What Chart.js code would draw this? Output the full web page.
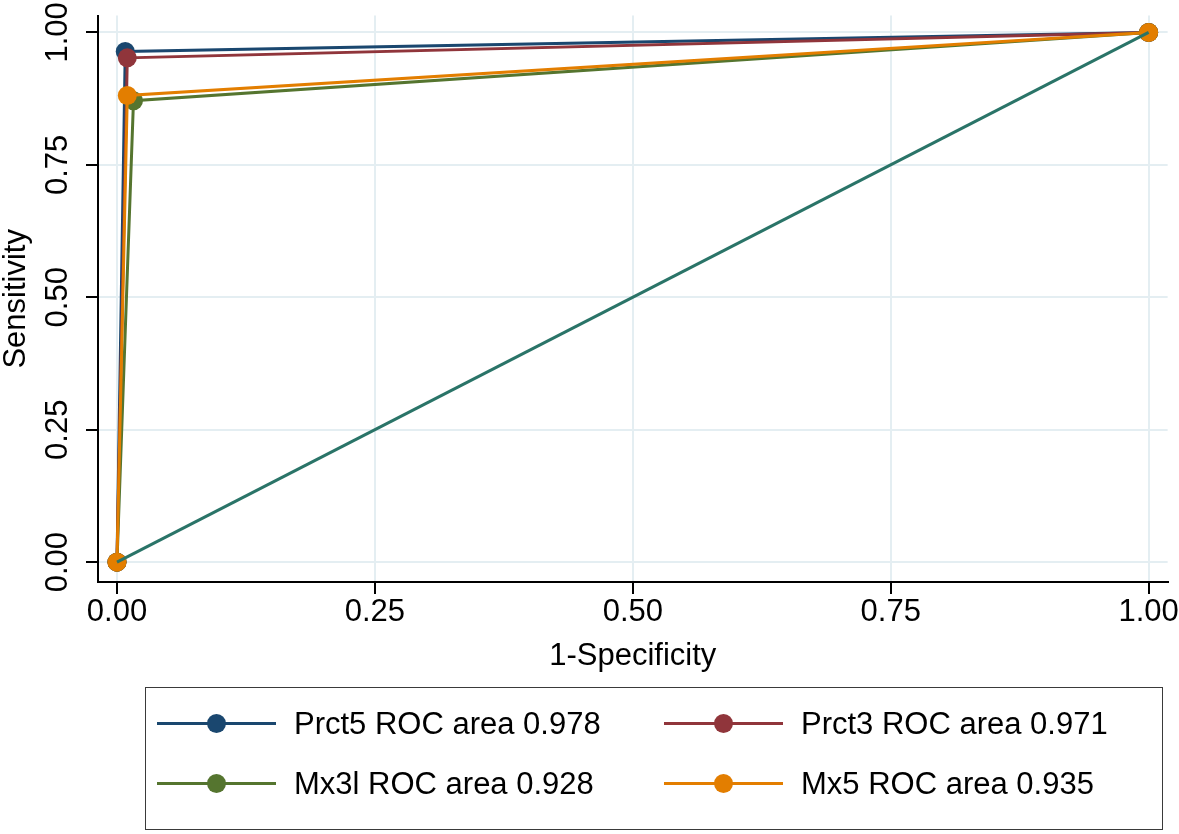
<!DOCTYPE html>
<html><head><meta charset="utf-8">
<script src="https://cdn.jsdelivr.net/npm/chart.js@4/dist/chart.umd.min.js"></script>
<style>
html,body{margin:0;padding:0;background:#fff;}
#wrap{position:relative;width:1179px;height:834px;overflow:hidden;}
#c{position:absolute;left:0;top:0;}
#legend{position:absolute;left:145px;top:687px;width:1016px;height:141px;border:1.5px solid #3a3a3a;font-family:"Liberation Sans",Arial,sans-serif;font-size:31px;color:#000;}
.item{position:absolute;height:30px;width:490px;}
.sw{position:absolute;left:0;top:13px;width:119px;height:3px;}
.dot{position:absolute;left:50px;top:5px;width:19px;height:19px;border-radius:50%;}
.lab{position:absolute;left:137px;top:-3px;white-space:nowrap;line-height:36px;}
</style>
</head><body>
<div id="wrap">
<canvas id="c" width="1179" height="834"></canvas>
<div id="legend"></div>
</div>
<script>
// ---- data ----
const seriesNames = ['Prct5', 'Prct3', 'Mx3l', 'Mx5'];
const rocAreas = [0.978, 0.971, 0.928, 0.935];
const prct5X = [0, 0.008, 1];
const prct5Y = [0, 0.964, 1];
const prct3X = [0, 0.010, 1];
const prct3Y = [0, 0.952, 1];
const mx3lX = [0, 0.016, 1];
const mx3lY = [0, 0.871, 1];
const mx5X = [0, 0.010, 1];
const mx5Y = [0, 0.881, 1];
const refX = [0, 1];
const refY = [0, 1];
const tickValues = [0, 0.25, 0.5, 0.75, 1];
const xTitle = '1-Specificity';
const yTitle = 'Sensitivity';

// ---- styles ----
const colors = ['#1a476f', '#90353b', '#55752f', '#e37e00'];
const refColor = '#2a7468';
const FONT = '"Liberation Sans", Arial, sans-serif';

const xs = [prct5X, prct3X, mx3lX, mx5X];
const ys = [prct5Y, prct3Y, mx3lY, mx5Y];
const pts = (X, Y) => X.map((x, i) => ({x: x, y: Y[i]}));

const datasets = seriesNames.map((n, i) => ({
  label: n + ' ROC area ' + rocAreas[i].toFixed(3),
  data: pts(xs[i], ys[i]),
  showLine: true,
  borderColor: colors[i],
  backgroundColor: colors[i],
  borderWidth: 3,
  pointRadius: 9.5,
  pointHoverRadius: 9.5,
  pointBorderWidth: 0,
  pointBackgroundColor: colors[i],
  order: 4 - i + 1
}));
datasets.push({
  label: 'Reference',
  data: pts(refX, refY),
  showLine: true,
  borderColor: refColor,
  borderWidth: 3,
  pointRadius: 0,
  order: 0
});

const setTicks = s => { s.ticks = tickValues.map(v => ({value: v})); };

new Chart(document.getElementById('c'), {
  type: 'scatter',
  data: {datasets},
  options: {
    responsive: false,
    animation: false,
    devicePixelRatio: 1,
    layout: {padding: {left: 0, top: 12, right: 11, bottom: 159}},
    plugins: {legend: {display: false}, tooltip: {enabled: false}},
    events: [],
    scales: {
      x: {
        type: 'linear', min: -0.0184, max: 1.0184,
        afterBuildTicks: setTicks,
        afterFit: s => { s.height = 93; },
        ticks: {callback: v => Number(v).toFixed(2), font: {family: FONT, size: 31}, color: '#000', padding: 0, maxRotation: 0, autoSkip: false},
        grid: {color: '#e4eef2', lineWidth: 2, tickColor: '#000', tickWidth: 2, tickLength: 12, drawTicks: true},
        border: {color: '#000', width: 2},
        title: {display: true, text: xTitle, font: {family: FONT, size: 31}, color: '#000', padding: 0}
      },
      y: {
        type: 'linear', min: -0.0375, max: 1.0318,
        afterBuildTicks: setTicks,
        afterFit: s => { s.width = 98; },
        ticks: {callback: v => Number(v).toFixed(2), font: {family: FONT, size: 31}, color: '#000', padding: -3, minRotation: 90, maxRotation: 90, crossAlign: 'center', autoSkip: false},
        grid: {color: '#e4eef2', lineWidth: 2, tickColor: '#000', tickWidth: 2, tickLength: 12, drawTicks: true},
        border: {color: '#000', width: 2},
        title: {display: true, text: yTitle, font: {family: FONT, size: 31}, color: '#000', padding: {top: -2, bottom: 0}}
      }
    }
  }
});

// ---- legend (HTML) ----
const leg = document.getElementById('legend');
const posX = [11, 518], posY = [21, 81];
seriesNames.forEach((n, i) => {
  const it = document.createElement('div');
  it.className = 'item';
  it.style.left = posX[i % 2] + 'px';
  it.style.top = posY[Math.floor(i / 2)] + 'px';
  it.innerHTML = '<div class="sw" style="background:' + colors[i] + '"></div>' +
    '<div class="dot" style="background:' + colors[i] + '"></div>' +
    '<div class="lab">' + n + ' ROC area ' + rocAreas[i].toFixed(3) + '</div>';
  leg.appendChild(it);
});
</script>
</body></html>
